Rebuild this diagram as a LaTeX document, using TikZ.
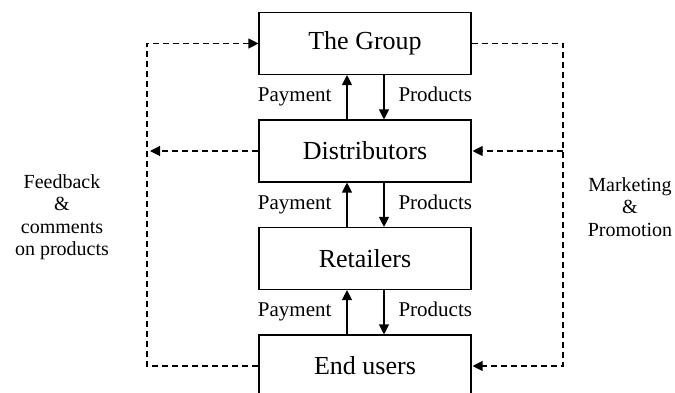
\documentclass[tikz,border=0pt]{standalone}
\usepackage{fontspec}
\setmainfont{Liberation Serif}
\usetikzlibrary{arrows.meta,positioning}

\begin{document}
\begin{tikzpicture}[x=1pt, y=1pt, >={Triangle[length=10pt,width=10pt]}, line width=1.1pt, node distance=107.5pt,
    box/.style={draw, minimum width=212pt, minimum height=62pt, inner sep=0pt, font=\fontsize{26}{31}\selectfont},
    lbl/.style={font=\fontsize{21}{25}\selectfont, inner sep=0pt, text height=14pt, text depth=5pt},
    side/.style={font=\fontsize{20}{22.5}\selectfont, align=center},
    flow/.style={dash pattern=on 6pt off 4pt}]
    \useasboundingbox (0,0) rectangle (675,-393);

    % Boxes {group, dist, retail, users}
    \node [box] (group)                    at (365,-43.5) {The Group};
    \node [box] (dist)   [below of=group]  {Distributors};
    \node [box] (retail) [below of=dist]   {Retailers};
    \node [box] (users)  [below of=retail] {End users};

    % Side texts
    \node [side] (feedback)  at (62,-217)  {Feedback\\\&\\comments\\on products};
    \node [side] (marketing) at (630,-207) {Marketing\\\&\\Promotion};

    % Corners of the dashed loops
    \coordinate (lx) at (147,0);
    \coordinate (rx) at (563,0);

    % Payment and products
    \foreach \lower/\upper in {dist/group, retail/dist, users/retail} {
        \draw [->] ([xshift=-18pt]\lower.north) -- node [lbl, left=15pt] {Payment} ([xshift=-18pt]\upper.south);
        \draw [->] ([xshift=19pt]\upper.south) -- node [lbl, right=14pt] {Products} ([xshift=19pt]\lower.north);
    }

    % Feedback loop
    \draw [flow, ->] (users.west) -- (users.west -| lx) |- (group.west);
    \draw [flow, ->, shorten >=3pt] (dist.west) -- (dist.west -| lx);

    % Marketing loop
    \draw [flow, ->, shorten >=1pt] (group.east) -- (group.east -| rx) |- (users.east);
    \draw [flow, ->, shorten >=1pt] (dist.east -| rx) -- (dist.east);
\end{tikzpicture}
\end{document}
